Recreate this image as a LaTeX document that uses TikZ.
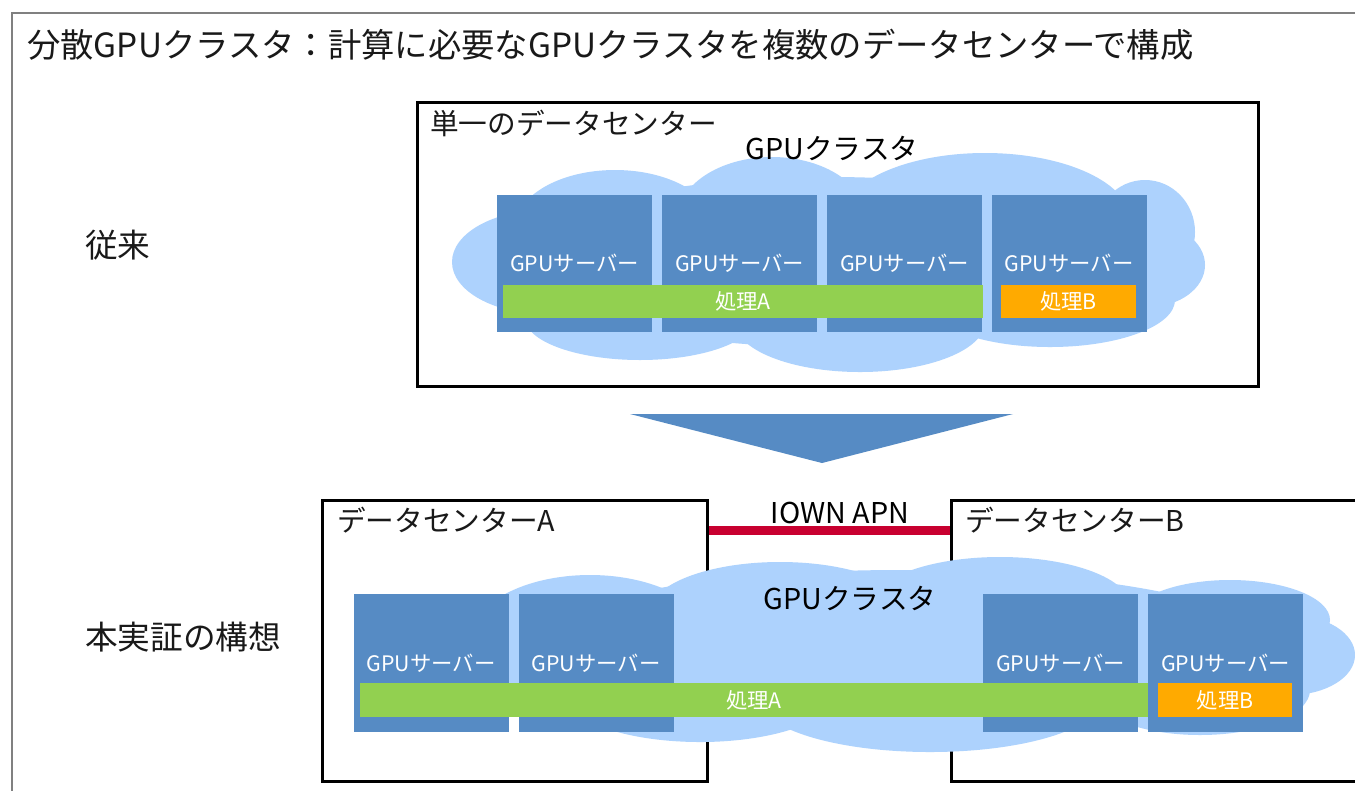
\documentclass[tikz,border=0pt]{standalone}
\usepackage{fontspec}
\setmainfont{Noto Sans CJK JP}
\definecolor{cloudblue}{RGB}{173,210,253}
\definecolor{srvblue}{RGB}{86,139,196}
\definecolor{jobA}{RGB}{146,208,80}
\definecolor{jobB}{RGB}{255,170,0}
\definecolor{apnred}{RGB}{200,0,48}
\definecolor{framegray}{RGB}{128,128,128}
\tikzset{
  server/.style={fill=srvblue, text=white, inner sep=0pt,
    minimum width=116.25pt, font=\fontsize{16}{18}\selectfont},
  jobbar/.style={inner sep=0pt, text=white, font=\fontsize{16}{18}\selectfont},
  dcbox/.style={draw=black, line width=2.25pt},
  lbl/.style={inner sep=0pt, anchor=west, text=black!90},
  big/.style={font=\fontsize{24.5}{28}\selectfont},
  mid/.style={font=\fontsize{21.5}{25}\selectfont},
  apn/.style={draw=apnred, line width=6.75pt},
  cloudfill/.style={fill=cloudblue, draw=none},
}
\begin{document}
\begin{tikzpicture}[x=0.75pt, y=-0.75pt]
\useasboundingbox (0,0) rectangle (1355,790);
\fill[white] (0,0) rectangle (1355,790);

% outer frame, open to the right and bottom
\draw[framegray, line width=1.5pt] (12,800) -- (12,13) -- (1370,13);

% title and row labels
\node[lbl, font=\fontsize{25}{30}\selectfont] (title) at (27,45)
  {分散GPUクラスタ：計算に必要なGPUクラスタを複数のデータセンターで構成};
\node[lbl, big] (conv) at (85,245) {従来};
\node[lbl, big] (plan) at (85,637) {本実証の構想};

% ---------- single data centre ----------
\draw[dcbox] (417,102) rectangle (1258,386);
\node[lbl, mid] (dc1) at (430,123) {単一のデータセンター};

% cluster cloud (top)
\begin{scope}[cloudfill]
  \fill (545,262) ellipse [x radius=93, y radius=52];
  \fill (615,228) ellipse [x radius=100, y radius=58];
  \fill (772,220) ellipse [x radius=95, y radius=63];
  \fill (985,220) ellipse [x radius=145, y radius=67];
  \fill (1145,232) ellipse [x radius=50, y radius=52];
  \fill (1148,265) ellipse [x radius=57, y radius=42];
  \fill (640,318) ellipse [x radius=115, y radius=42];
  \fill (860,322) ellipse [x radius=125, y radius=50];
  \fill (1050,300) ellipse [x radius=125, y radius=47];
  \fill (830,262) ellipse [x radius=320, y radius=85];
\end{scope}
\node[mid, inner sep=0pt] (cl1) at (832,148) {GPUクラスタ};

\foreach \i/\x in {1/574.5, 2/739.5, 3/904.5, 4/1069}
  \node[server, minimum height=102.75pt] (t\i) at (\x,263.5) {GPUサーバー};
\node[jobbar, fill=jobA, minimum width=360pt, minimum height=24.75pt] (ta) at (743,301.5) {処理A};
\node[jobbar, fill=jobB, minimum width=101.25pt, minimum height=24.75pt] (tb) at (1068.5,301.5) {処理B};

% ---------- down arrow ----------
\coordinate (arL) at (630,414);
\coordinate (arR) at (1013,414);
\coordinate (arT) at (822,463);
\fill[srvblue] (arL) -- (arR) -- (arT) -- cycle;

% ---------- two data centres ----------
\node[dcbox, minimum width=288.75pt, minimum height=210.75pt] (dcA) at (514.5,640.5) {};
\node[dcbox, minimum width=450pt, minimum height=210.75pt] (dcB) at (1251,640.5) {};
\node[lbl, mid] (dcAl) at (337,520) {データセンターA};
\node[lbl, mid] (dcBl) at (965,520) {データセンターB};
\coordinate (apnY) at (0,530);
\draw[apn] (dcA.east |- apnY) -- (dcB.west |- apnY);
\node[mid, inner sep=0pt] (apnl) at (840,513) {IOWN APN};

% cluster cloud (bottom)
\begin{scope}[cloudfill]
  \fill (590,640) ellipse [x radius=120, y radius=65];
  \fill (700,690) ellipse [x radius=140, y radius=52];
  \fill (780,612) ellipse [x radius=130, y radius=50];
  \fill (1000,606) ellipse [x radius=130, y radius=49];
  \fill (1230,620) ellipse [x radius=100, y radius=40];
  \fill (1290,655) ellipse [x radius=65, y radius=40];
  \fill (1200,690) ellipse [x radius=110, y radius=45];
  \fill (930,700) ellipse [x radius=170, y radius=52];
  \fill (900,650) ellipse [x radius=380, y radius=80];
\end{scope}
\node[mid, inner sep=0pt] (cl2) at (850,598) {GPUクラスタ};

\foreach \i/\x in {1/431, 2/596, 3/1060.5, 4/1225.5}
  \node[server, minimum height=103.5pt] (b\i) at (\x,663) {GPUサーバー};
\node[jobbar, fill=jobA, minimum width=591pt, minimum height=25.5pt] (ba) at (754,700) {処理A};
\node[jobbar, fill=jobB, minimum width=100.5pt, minimum height=25.5pt] (bb) at (1225,700) {処理B};
\end{tikzpicture}
\end{document}
